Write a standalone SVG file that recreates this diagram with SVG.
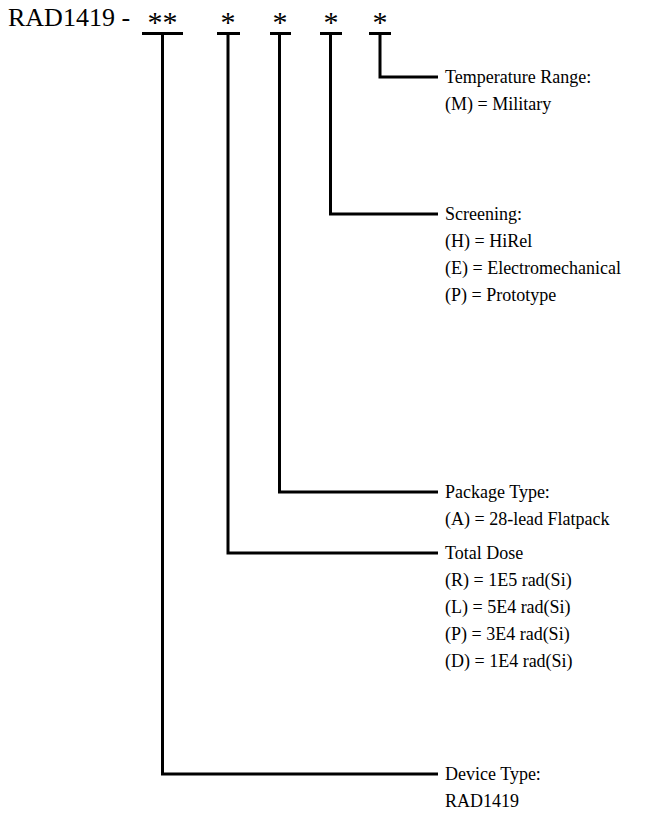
<svg xmlns="http://www.w3.org/2000/svg" width="655" height="813" viewBox="0 0 655 813">
<style>
.t{font-family:"Liberation Serif","Times New Roman",serif;font-size:18px;fill:#000}
.h{font-family:"Liberation Serif","Times New Roman",serif;font-size:26px;fill:#000}
.a{font-family:"Liberation Serif","Times New Roman",serif;font-size:30px;fill:#000;text-anchor:middle}
.c{fill:none;stroke:#000;stroke-width:3}
</style>
<rect width="655" height="813" fill="#fff"/>
<g id="title">
<text class="h" x="8" y="26">RAD1419 -</text>
<text class="a" x="162.5" y="32">**</text>
<text class="a" x="228" y="32">*</text>
<text class="a" x="280" y="32">*</text>
<text class="a" x="331" y="32">*</text>
<text class="a" x="380" y="32">*</text>
</g>
<g id="connectors">
<path class="c" d="M142 33.5H183M217 33.5H240M270 33.5H291M320 33.5H342M369 33.5H391"/>
<path class="c" d="M380 33.5V77H438"/>
<path class="c" d="M330.5 33.5V214H438"/>
<path class="c" d="M279.5 33.5V492H438"/>
<path class="c" d="M228 33.5V553H438"/>
<path class="c" d="M162.5 33.5V774H438"/>
</g>
<g id="temperature">
<text class="t" x="445" y="83">Temperature Range:</text>
<text class="t" x="445" y="110">(M) = Military</text>
</g>
<g id="screening">
<text class="t" x="445" y="220">Screening:</text>
<text class="t" x="445" y="247">(H) = HiRel</text>
<text class="t" x="445" y="274">(E) = Electromechanical</text>
<text class="t" x="445" y="301">(P) = Prototype</text>
</g>
<g id="package">
<text class="t" x="445" y="498">Package Type:</text>
<text class="t" x="445" y="525">(A) = 28-lead Flatpack</text>
</g>
<g id="dose">
<text class="t" x="445" y="559">Total Dose</text>
<text class="t" x="445" y="586">(R) = 1E5 rad(Si)</text>
<text class="t" x="445" y="613">(L) = 5E4 rad(Si)</text>
<text class="t" x="445" y="640">(P) = 3E4 rad(Si)</text>
<text class="t" x="445" y="667">(D) = 1E4 rad(Si)</text>
</g>
<g id="device">
<text class="t" x="445" y="780">Device Type:</text>
<text class="t" x="445" y="807">RAD1419</text>
</g>
</svg>
